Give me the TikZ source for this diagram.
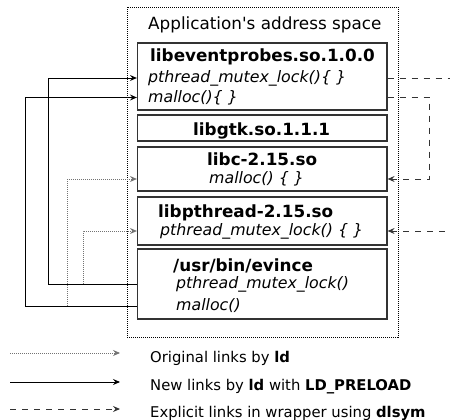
\documentclass[tikz,border=0pt]{standalone}
\usepackage{fontspec}
\setmainfont{DejaVu Sans}
\usetikzlibrary{arrows.meta}
\tikzset{
  libbox/.style={draw=black!80, line width=1.2pt, minimum width=249.5pt, inner sep=0pt},
  boxname/.style={anchor=base west, inner sep=0pt, font=\fontsize{16.8}{20}\selectfont\bfseries},
  funcname/.style={anchor=west, inner sep=0pt, font=\fontsize{15.8}{19}\selectfont\itshape},
  legendtext/.style={anchor=base west, inner sep=0pt, font=\fontsize{14.8}{18}\selectfont},
  origlink/.style={->, black!55, line width=0.8pt, dash pattern=on 1pt off 1pt},
  newlink/.style={->, black, line width=0.9pt},
  dlsymlink/.style={->, black!80, line width=0.9pt, dash pattern=on 6pt off 6pt},
}
\begin{document}
\begin{tikzpicture}[x=1pt, y=-1pt, >={Stealth[length=7pt,width=6pt,inset=2.5pt]}]
\useasboundingbox (0,0) rectangle (450,420);
\clip (0,0) rectangle (450,420);

% address space
\node[draw, line width=0.8pt, dash pattern=on 1pt off 1pt, minimum width=271pt,
      minimum height=330pt, inner sep=0pt] (space) at (262.5,172) {};
\node[anchor=base west, inner sep=0pt, font=\fontsize{16.8}{20}\selectfont]
      (spacename) at (148,30) {Application\textquotesingle s address space};

% libraries
\node[libbox, minimum height=67pt] (evp) at (262.25,76.5) {};
\node[boxname] (evpname) at (150,62) {libeventprobes.so.1.0.0};
\node[funcname] (evpmx) at (148,78) {pthread\_mutex\_lock()\{ \}};
\node[funcname] (evpml) at (148,97.5) {malloc()\{ \}};

\node[libbox, minimum height=26pt] (gtk) at (262.25,128) {};
\node[boxname] (gtkname) at (193,135) {libgtk.so.1.1.1};

\node[libbox, minimum height=44pt] (libc) at (262.25,169) {};
\node[boxname] (libcname) at (207,165) {libc-2.15.so};
\node[funcname] (libcml) at (209,179) {malloc() \{ \}};

\node[libbox, minimum height=48pt] (pthr) at (262.25,221) {};
\node[boxname] (pthrname) at (158,217) {libpthread-2.15.so};
\node[funcname] (pthrmx) at (160,231) {pthread\_mutex\_lock() \{ \}};

\node[libbox, minimum height=70pt] (evince) at (262.25,284) {};
\node[boxname] (evname) at (173,271) {/usr/bin/evince};
\node[funcname] (evmx) at (176,284.5) {pthread\_mutex\_lock()};
\node[funcname] (evml) at (176,306) {malloc()};

% original links
\draw[origlink] (evince.west |- evml) -- ++(-69.5,0) |- (libc.west |- libcml);
\draw[origlink] (evince.west |- evmx) -- ++(-53.5,0) |- (pthr.west |- pthrmx);

% links with LD_PRELOAD
\draw[newlink] (evince.west |- evmx) -- ++(-88.5,0) |- (evp.west |- evpmx);
\draw[newlink] (evince.west |- evml) -- ++(-111.5,0) |- (evp.west |- evpml);

% dlsym links
\draw[dlsymlink] (evp.east |- evpml) -- ++(42,0) |- (libc.east |- libcml);
\draw[dlsymlink] (evp.east |- evpmx) -- ++(90,0) |- (pthr.east |- pthrmx);

% legend
\coordinate (leg1) at (10,353);
\coordinate (leg2) at (10,382);
\coordinate (leg3) at (10,409);
\draw[origlink] (leg1) -- ++(110,0);
\draw[newlink] (leg2) -- ++(110,0);
\draw[dlsymlink] (leg3) -- ++(110,0);
\node[legendtext] (leg1text) at (150,362) {Original links by \textbf{ld}};
\node[legendtext] (leg2text) at (150,390) {New links by \textbf{ld} with \textbf{LD\_PRELOAD}};
\node[legendtext] (leg3text) at (150,417) {Explicit links in wrapper using \textbf{dlsym}};
\end{tikzpicture}
\end{document}
